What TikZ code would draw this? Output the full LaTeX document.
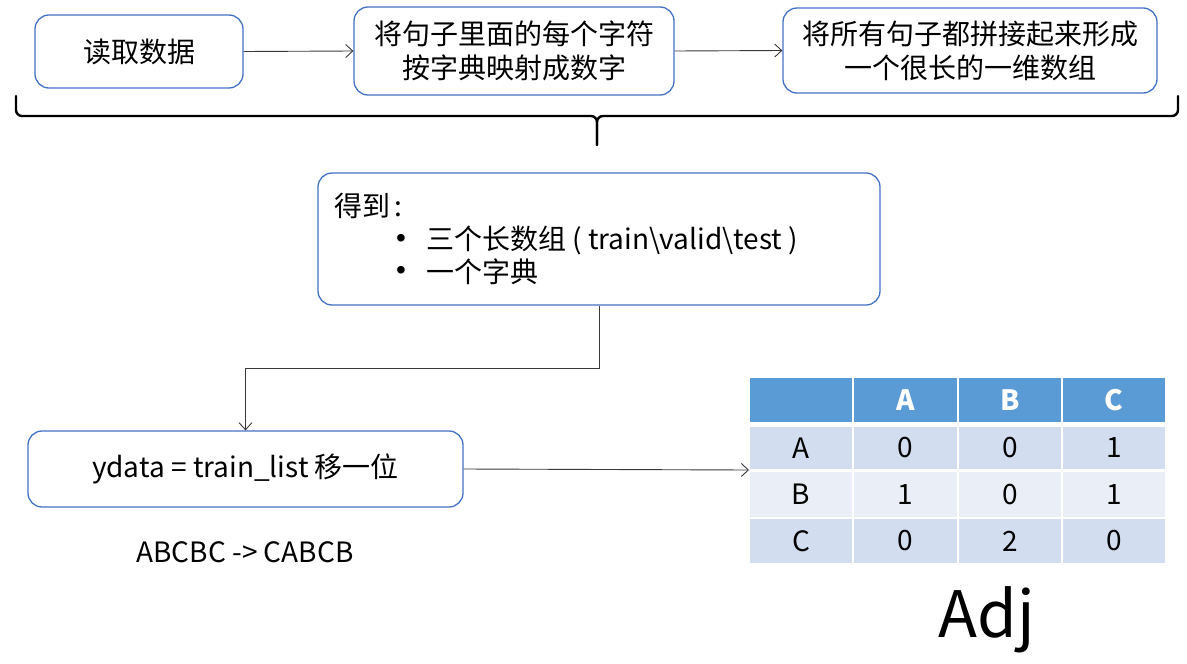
\documentclass[tikz,border=0pt]{standalone}
\usepackage{fontspec}
\setmainfont{Noto Sans CJK SC}
\newfontfamily\symf{Liberation Sans}
\usetikzlibrary{arrows.meta}
\definecolor{boxblue}{HTML}{4472C4}
\definecolor{hdr}{HTML}{5B9BD5}
\definecolor{rowA}{HTML}{D2DEEF}
\definecolor{rowB}{HTML}{EAEFF7}
\definecolor{conn}{HTML}{3A3A3A}
\begin{document}
\begin{tikzpicture}[x=1pt,y=-1pt,
  stepbox/.style={draw=boxblue, line width=1.3pt, rounded corners=14pt, fill=white,
    align=center, inner sep=0pt, font=\fontsize{28}{34}\selectfont},
  arr/.style={draw=conn, line width=0.9pt, -{Straight Barb[length=7pt,width=13pt]}},
  txt/.style={font=\fontsize{28}{34}\selectfont, inner sep=0pt},
  brace/.style={line width=2.4pt, line cap=round, rounded corners=6pt},
  cell/.style={inner sep=0pt, anchor=center, font=\fontsize{28}{34}\selectfont},
  hdrtxt/.style={cell, text=white, font=\fontsize{28}{34}\selectfont\bfseries},
  bul/.style={txt, font=\fontsize{28}{34}\symf}]
\useasboundingbox (0,0) rectangle (1187,664);

% top row boxes
\node[stepbox, minimum width=208pt, minimum height=73pt] (b1) at (139,51.5) {读取数据};
\node[stepbox, minimum width=320pt, minimum height=88pt] (b2) at (514,51) {将句子里面的每个字符\\按字典映射成数字};
\node[stepbox, minimum width=374pt, minimum height=85pt] (b3) at (970,50.5) {将所有句子都拼接起来形成\\一个很长的一维数组};
\draw[arr] (b1.east) -- (b2.west);
\draw[arr] (b2.east) -- (b3.west);

% brace
\draw[brace] (16,96) -- (16,116) -- (597,116) -- (597,145);
\draw[brace] (1178,96) -- (1178,116) -- (597,116) -- (597,145);

% result box
\node[stepbox, minimum width=562pt, minimum height=132pt] (b4) at (599,239) {};
\node[txt, anchor=west] (t0) at (334,206) {得到\,:};
\node[bul] (d1) at (401,241) {•};
\node[txt, anchor=west] (t1) at (426,240) {三个长数组 ( train\textbackslash valid\textbackslash test )};
\node[bul] (d2) at (401,273) {•};
\node[txt, anchor=west] (t2) at (426,272) {一个字典};

% ydata box
\node[stepbox, minimum width=435pt, minimum height=76pt] (b5) at (245.5,469) {ydata = train\_list 移一位};
\coordinate (elb) at (599,368);
\draw[arr] (b4.south) -- (elb) -| (b5.north);

\node[txt] (ex) at (245,552) {ABCBC -> CABCB};

% table
\foreach \xa/\xb in {750/852,854/957,959/1061,1063/1165}{
  \fill[hdr] (\xa,378) rectangle (\xb,422);
  \fill[rowA] (\xa,427) rectangle (\xb,469);
  \fill[rowB] (\xa,472) rectangle (\xb,517);
  \fill[rowA] (\xa,519) rectangle (\xb,563);
}
\node[hdrtxt] (hA) at (905.5,400) {A};
\node[hdrtxt] (hB) at (1010,400) {B};
\node[hdrtxt] (hC) at (1114,400) {C};
\node[cell] (rA) at (801,448) {A};
\node[cell] (rB) at (801,494.5) {B};
\node[cell] (rC) at (801,541) {C};
\node[cell] (c11) at (905.5,448) {0};
\node[cell] (c12) at (1010,448) {0};
\node[cell] (c13) at (1114,448) {1};
\node[cell] (c21) at (905.5,494.5) {1};
\node[cell] (c22) at (1010,494.5) {0};
\node[cell] (c23) at (1114,494.5) {1};
\node[cell] (c31) at (905.5,541) {0};
\node[cell] (c32) at (1010,541) {2};
\node[cell] (c33) at (1114,541) {0};

\coordinate (tblin) at (749,470);
\draw[arr] (b5.east) -- (tblin);

\node[inner sep=0pt, font=\fontsize{64}{70}\selectfont] (adj) at (987,620) {Adj};
\end{tikzpicture}
\end{document}
